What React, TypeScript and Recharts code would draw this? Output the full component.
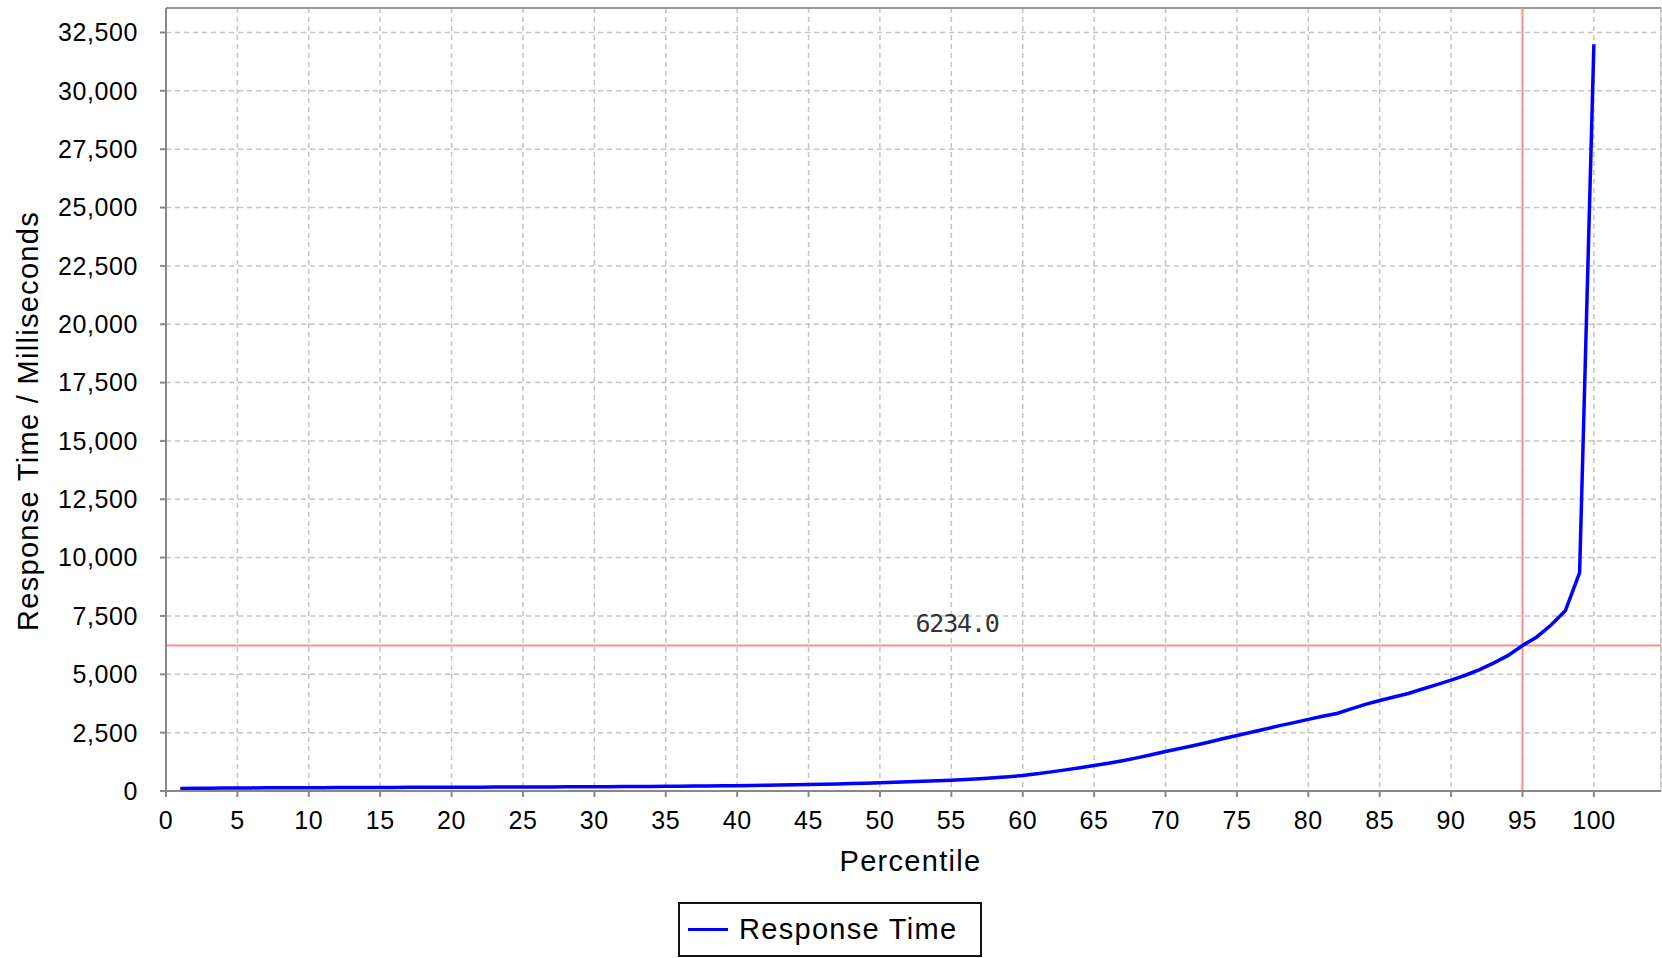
import React from "react";
import {
  LineChart,
  Line,
  XAxis,
  YAxis,
  CartesianGrid,
  ReferenceLine,
  Legend,
  Label,
} from "recharts";

const percentiles = Array.from({ length: 100 }, (_, i) => i + 1);

const responseTimes = [
  105, 115, 120, 125, 130, 133, 136, 138, 140, 142,
  144, 146, 148, 150, 152, 154, 156, 158, 160, 162,
  164, 166, 168, 170, 172, 174, 176, 178, 180, 183,
  186, 189, 192, 196, 200, 205, 210, 216, 222, 230,
  238, 247, 256, 266, 277, 290, 304, 320, 337, 355,
  373, 392, 413, 436, 462, 492, 527, 566, 611, 665,
  740, 820, 905, 995, 1090, 1190, 1300, 1420, 1550, 1690,
  1820, 1950, 2090, 2240, 2380, 2520, 2660, 2800, 2930, 3070,
  3200, 3320, 3520, 3710, 3880, 4030, 4180, 4370, 4560, 4750,
  4960, 5200, 5490, 5810, 6234, 6600, 7110, 7720, 9360, 32000,
];

const xTicks = [0, 5, 10, 15, 20, 25, 30, 35, 40, 45, 50, 55, 60, 65, 70, 75, 80, 85, 90, 95, 100];
const yTicks = [0, 2500, 5000, 7500, 10000, 12500, 15000, 17500, 20000, 22500, 25000, 27500, 30000, 32500];

const markerPercentile = 95;
const markerValue = 6234;

const data = percentiles.map((p, i) => ({ percentile: p, value: responseTimes[i] }));

const FONT = '"Liberation Sans", Arial, sans-serif';

function LegendBox() {
  return (
    <div style={{ height: 57, position: "relative" }}>
      <div
        style={{
          position: "absolute",
          left: 678,
          top: 1,
          width: 300,
          height: 51,
          border: "2px solid #111",
          display: "flex",
          alignItems: "center",
          fontFamily: FONT,
          fontSize: 29,
          letterSpacing: "1.3px",
          color: "#000",
        }}
      >
        <span style={{ display: "inline-block", width: 40, height: 3, background: "#0000ff", marginLeft: 8, marginRight: 11 }} />
        <span>Response Time</span>
      </div>
    </div>
  );
}

export default function App() {
  return (
    <div style={{ position: "absolute", left: 0, top: 0, background: "#fff" }}>
      <LineChart
        width={1662}
        height={958}
        data={data}
        margin={{ top: 8, right: 1, left: 0, bottom: 0 }}
        style={{ fontFamily: FONT, letterSpacing: "0.6px" }}
      >
        <CartesianGrid stroke="#c4c4c4" strokeDasharray="5 4" strokeWidth={1.5} />
        <XAxis
          dataKey="percentile"
          type="number"
          domain={[0, 104.7]}
          ticks={xTicks}
          interval={0}
          height={110}
          tickSize={6}
          tickMargin={14}
          stroke="#888"
          strokeWidth={2}
          tick={{ fontSize: 25, fill: "#000" }}
        >
          <Label
            content={(props: any) => {
              const vb = props.viewBox || {};
              return (
                <text
                  x={vb.x + vb.width / 2 - 3}
                  y={871}
                  textAnchor="middle"
                  fontSize={29}
                  fill="#000"
                  style={{ letterSpacing: "1.3px" }}
                >
                  Percentile
                </text>
              );
            }}
          />
        </XAxis>
        <YAxis
          type="number"
          domain={[0, 33550]}
          ticks={yTicks}
          interval={0}
          width={166}
          tickSize={6}
          tickMargin={22}
          stroke="#888"
          strokeWidth={2}
          tick={{ fontSize: 25, fill: "#000" }}
          tickFormatter={(v: number) => v.toLocaleString("en-US")}
        >
          <Label
            content={() => (
              <text
                x={38}
                y={421}
                transform="rotate(-90 38 421)"
                textAnchor="middle"
                fontSize={29}
                fill="#000"
                style={{ letterSpacing: "1.3px" }}
              >
                Response Time / Milliseconds
              </text>
            )}
          />
        </YAxis>
        <ReferenceLine y={33550} stroke="#999" strokeWidth={2} />
        <ReferenceLine x={104.7} stroke="#bbb" strokeWidth={1} />
        <ReferenceLine
          y={markerValue}
          stroke="#ff9090"
          strokeWidth={2}
          label={(props: any) => {
            const vb = props.viewBox || {};
            return (
              <text
                x={vb.x + vb.width * 0.5 + 2}
                y={vb.y - 14}
                fontFamily='"DejaVu Sans Mono", monospace'
                fontSize={25}
                fill="#333"
                style={{ letterSpacing: "-1.2px" }}
              >
                {markerValue.toFixed(1)}
              </text>
            );
          }}
        />
        <ReferenceLine x={markerPercentile} stroke="#ff9090" strokeWidth={2} />
        <Line
          type="linear"
          dataKey="value"
          stroke="#0000ff"
          strokeWidth={3.5}
          dot={false}
          isAnimationActive={false}
        />
        <Legend verticalAlign="bottom" content={<LegendBox />} wrapperStyle={{ left: 0, width: 1662, height: 57 }} />
      </LineChart>
    </div>
  );
}
